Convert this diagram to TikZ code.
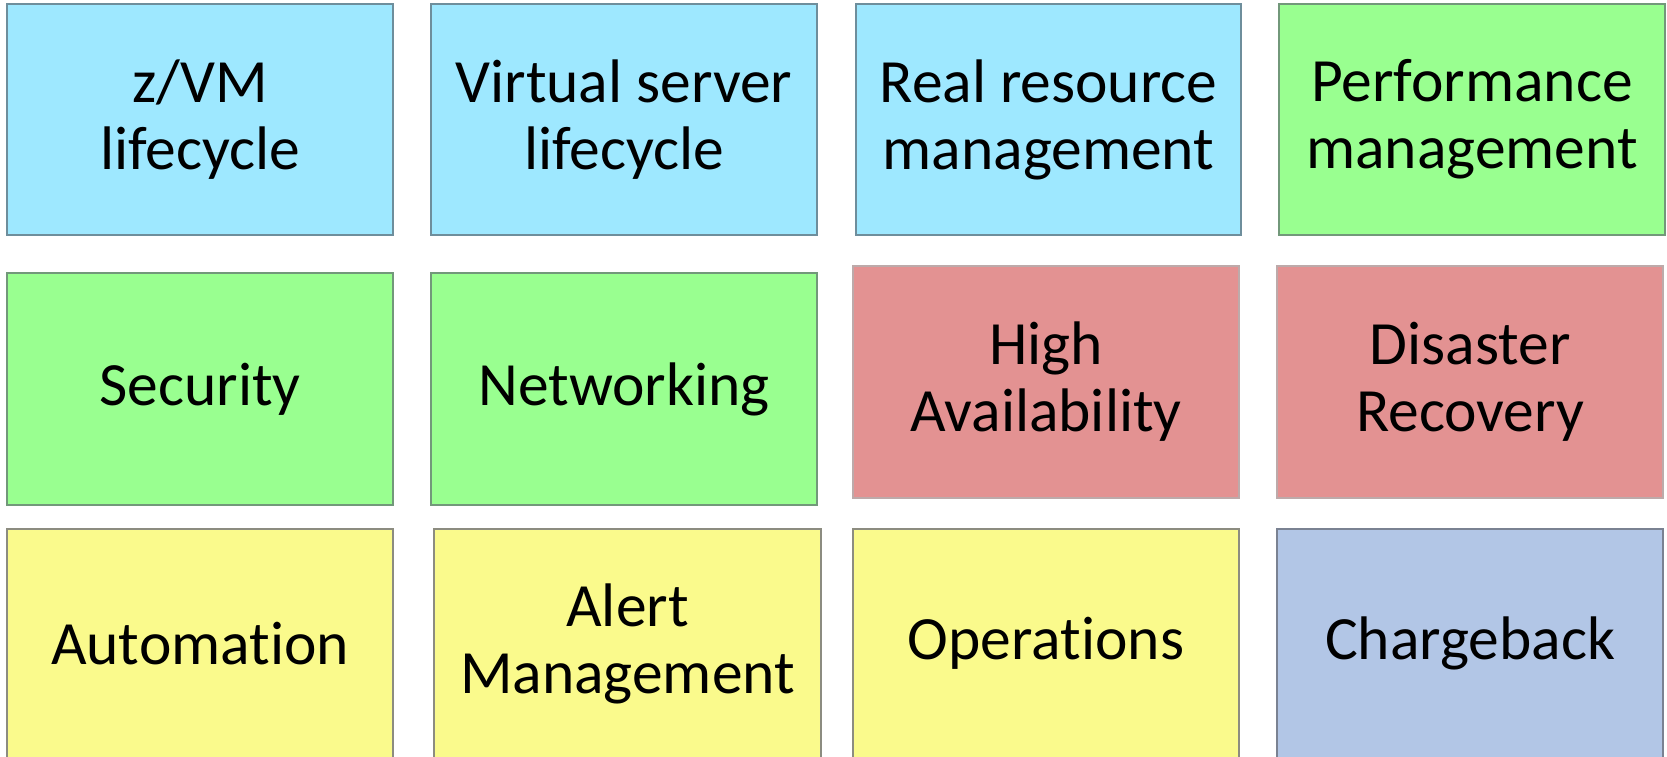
\documentclass[tikz,border=0pt]{standalone}
\usepackage{fontspec}
\setmainfont{Carlito}[Ligatures={NoCommon}]
\definecolor{bfill}{HTML}{9EE8FF}
\definecolor{bdraw}{HTML}{6E8E9C}
\definecolor{gfill}{HTML}{99FF90}
\definecolor{gdraw}{HTML}{72987A}
\definecolor{rfill}{HTML}{E39292}
\definecolor{rdraw}{HTML}{BDAAAA}
\definecolor{yfill}{HTML}{FAFA8C}
\definecolor{ydraw}{HTML}{8C8C80}
\definecolor{cfill}{HTML}{B2C6E6}
\definecolor{cdraw}{HTML}{7A8292}
\tikzset{
  tile/.style={rectangle, line width=1.3pt, align=center, inner sep=0pt, outer sep=0pt,
    font=\fontsize{61.5}{67}\selectfont, text=black},
  bluetile/.style={tile, fill=bfill, draw=bdraw},
  greentile/.style={tile, fill=gfill, draw=gdraw},
  redtile/.style={tile, fill=rfill, draw=rdraw},
  yellowtile/.style={tile, fill=yfill, draw=ydraw},
  chargetile/.style={tile, fill=cfill, draw=cdraw},
}
% \tileat{style}{name}{x1}{y1}{x2}{y2}{text}
\newcommand{\tileat}[7]{%
  \node[#1, minimum width={#5-#3}, minimum height={#6-#4}] (#2) at ({(#3+#5)/2},{(#4+#6)/2}) {#7};}
\begin{document}
\begin{tikzpicture}[x=1pt,y=-1pt]
\useasboundingbox (0,0) rectangle (1667,757);
\clip (0,0) rectangle (1667,757);
\fill[white] (0,0) rectangle (1667,757);
% row 1
\tileat{bluetile}{zvm}{7}{4}{393}{235}{z/VM\\lifecycle}
\tileat{bluetile}{vsl}{431}{4}{817}{235}{Virtual server\\lifecycle}
\tileat{bluetile}{rrm}{856}{4}{1241}{235}{Real resource\\management}
\tileat{greentile}{perf}{1279}{4}{1665}{235}{Performance\\management}
% row 2
\tileat{greentile}{sec}{7}{273}{393}{505}{Security}
\tileat{greentile}{net}{431}{273}{817}{505}{Networking}
\tileat{redtile}{ha}{853}{266}{1239}{498}{High\\Availability}
\tileat{redtile}{dr}{1277}{266}{1663}{498}{Disaster\\Recovery}
% row 3
\tileat{yellowtile}{auto}{7}{529}{393}{758}{Automation}
\tileat{yellowtile}{alert}{434}{529}{821}{758}{Alert\\Management}
\tileat{yellowtile}{ops}{853}{529}{1239}{758}{Operations}
\tileat{chargetile}{cb}{1277}{529}{1663}{758}{Chargeback}
\end{tikzpicture}
\end{document}
